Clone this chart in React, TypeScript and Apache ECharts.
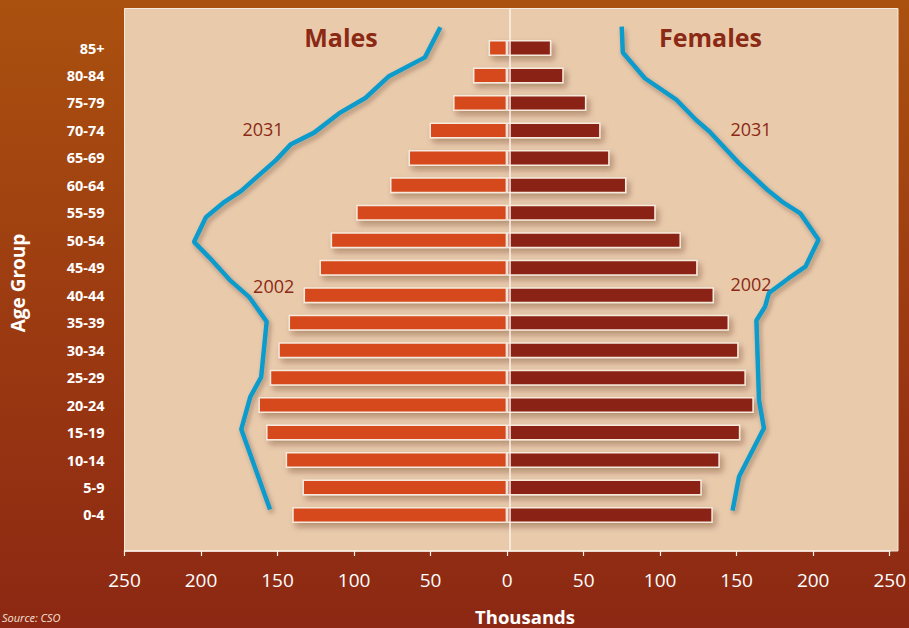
import React, { useEffect, useRef } from "react";
import * as echarts from "echarts";

const ageGroups = ["0-4", "5-9", "10-14", "15-19", "20-24", "25-29", "30-34", "35-39", "40-44", "45-49", "50-54", "55-59", "60-64", "65-69", "70-74", "75-79", "80-84", "85+"];
const males2002 = [140.4, 133.7, 144.7, 157.5, 162.5, 155.1, 149.5, 142.8, 133.0, 122.6, 115.3, 98.6, 76.5, 64.4, 50.7, 35.3, 22.3, 12.1];
const females2002 = [134.4, 127.2, 139.0, 152.4, 161.2, 156.0, 151.3, 145.0, 135.2, 124.5, 113.6, 97.1, 78.0, 67.0, 61.1, 51.8, 37.0, 28.9];

// 2031 projection outline: age (years) and population (thousands)
const male2031Ages = [3.5, 18.1, 24.0, 27.6, 37.7, 42.1, 45.3, 49.4, 52.2, 56.7, 59.3, 61.5, 67.1, 70.0, 72.1, 75.6, 78.4, 82.3, 85.8, 91.3];
const male2031Values = [154.9, 173.7, 167.8, 160.7, 157.1, 168.3, 181.3, 194.7, 204.6, 196.8, 185.6, 173.7, 151.0, 141.2, 126.1, 109.9, 92.6, 77.5, 53.7, 43.6];
const female2031Ages = [3.3, 9.5, 18.3, 23.4, 37.9, 40.4, 42.9, 45.6, 47.7, 52.6, 57.4, 59.5, 61.7, 66.5, 72.3, 74.4, 78.1, 82.0, 86.7, 91.4];
const female2031Values = [147.3, 151.6, 167.8, 164.6, 162.9, 168.5, 171.1, 184.0, 194.9, 203.5, 191.6, 179.8, 170.0, 151.6, 132.2, 123.5, 110.5, 90.0, 75.6, 74.9];

const xMin = -250;
const xMax = 250;
const xInterval = 50;

const FONT = "'Open Sans', 'Noto Sans', sans-serif";
const DARK = "#8B2914";

export default function App() {
  const ref = useRef<HTMLDivElement>(null);

  useEffect(() => {
    if (!ref.current) return;
    const chart = echarts.init(ref.current, undefined, { renderer: "svg" });

    const lineStyleCommon = {
      color: "#0B9BCC",
      width: 4.5,
      shadowColor: "rgba(60,30,10,0.35)",
      shadowBlur: 5,
      shadowOffsetX: 2,
      shadowOffsetY: 3,
    };

    const barShadow = {
      borderColor: "#F7E9DC",
      borderWidth: 1.5,
      shadowColor: "rgba(70,35,15,0.35)",
      shadowBlur: 6,
      shadowOffsetX: 3,
      shadowOffsetY: 4,
    };

    const option: any = {
      animation: false,
      backgroundColor: new echarts.graphic.LinearGradient(0, 0, 0, 1, [
        { offset: 0, color: "#AA510F" },
        { offset: 0.5, color: "#9C3B11" },
        { offset: 1, color: "#8C2813" },
      ]),
      textStyle: { fontFamily: FONT },
      grid: [
        {
          left: 124.5,
          top: 8.5,
          width: 773.5,
          height: 542.5,
          show: true,
          backgroundColor: "#E9CBAC",
          borderColor: "#F6E8DA",
          borderWidth: 1,
          containLabel: false,
        },
        {
          left: 124.5,
          top: 34.3,
          width: 771,
          height: 494.4,
          containLabel: false,
        },
      ],
      xAxis: [
        { gridIndex: 0, type: "value", min: xMin, max: 251.62, show: false },
        {
          gridIndex: 1,
          type: "value",
          min: xMin,
          max: xMax,
          interval: xInterval,
          offset: 22.3,
          axisLine: { show: true, onZero: false, lineStyle: { color: "#FBF1E8", width: 1.6 } },
          axisTick: { show: true, length: 5, lineStyle: { color: "#FBF1E8", width: 1.2 } },
          splitLine: { show: false },
          axisLabel: {
            color: "#FFFFFF",
            fontSize: 19,
            fontFamily: FONT,
            margin: 19,
            formatter: (v: number) => String(Math.abs(v)),
          },
        },
      ],
      yAxis: [
        { gridIndex: 0, type: "value", min: 0, max: 1, show: false },
        {
          gridIndex: 1,
          type: "category",
          data: ageGroups,
          axisLine: { show: false },
          axisTick: { show: false },
          splitLine: { show: false },
          axisLabel: {
            color: "#FFFFFF",
            fontSize: 14.5,
            fontWeight: "bold",
            fontFamily: FONT,
            margin: 20,
          },
        },
        { gridIndex: 1, type: "value", min: 0, max: 90, show: false },
      ],
      series: [
        {
          name: "zero",
          type: "line",
          xAxisIndex: 0,
          yAxisIndex: 0,
          data: [],
          silent: true,
          markLine: {
            silent: true,
            symbol: ["none", "none"],
            label: { show: false },
            lineStyle: { color: "#FBF2EA", width: 1.5, type: "solid" },
            data: [{ xAxis: 0 }],
          },
        },
        {
          name: "Males 2002",
          type: "bar",
          xAxisIndex: 1,
          yAxisIndex: 1,
          barGap: "-100%",
          barWidth: 16,
          data: males2002.map((v) => -v),
          itemStyle: { color: "#D5491B", ...barShadow },
        },
        {
          name: "Females 2002",
          type: "bar",
          xAxisIndex: 1,
          yAxisIndex: 1,
          barGap: "-100%",
          barWidth: 16,
          data: females2002,
          itemStyle: { color: "#8A2313", ...barShadow },
        },
        {
          name: "Males 2031",
          type: "line",
          xAxisIndex: 1,
          yAxisIndex: 2,
          clip: false,
          symbol: "none",
          showSymbol: false,
          data: male2031Ages.map((a, i) => [-male2031Values[i], a]),
          lineStyle: lineStyleCommon,
          z: 5,
        },
        {
          name: "Females 2031",
          type: "line",
          xAxisIndex: 1,
          yAxisIndex: 2,
          clip: false,
          symbol: "none",
          showSymbol: false,
          data: female2031Ages.map((a, i) => [female2031Values[i], a]),
          lineStyle: lineStyleCommon,
          z: 5,
        },
      ],
      graphic: [
        {
          type: "text",
          x: 341,
          y: 37,
          style: { text: "Males", fill: DARK, font: `bold 25px ${FONT}`, align: "center", verticalAlign: "middle" },
        },
        {
          type: "text",
          x: 710.5,
          y: 37,
          style: { text: "Females", fill: DARK, font: `bold 25px ${FONT}`, align: "center", verticalAlign: "middle" },
        },
        {
          type: "text",
          x: 263,
          y: 129,
          style: { text: "2031", fill: DARK, font: `18px ${FONT}`, align: "center", verticalAlign: "middle" },
        },
        {
          type: "text",
          x: 751,
          y: 129,
          style: { text: "2031", fill: DARK, font: `18px ${FONT}`, align: "center", verticalAlign: "middle" },
        },
        {
          type: "text",
          x: 273.7,
          y: 286,
          style: { text: "2002", fill: DARK, font: `18px ${FONT}`, align: "center", verticalAlign: "middle" },
        },
        {
          type: "text",
          x: 751,
          y: 284,
          style: { text: "2002", fill: DARK, font: `18px ${FONT}`, align: "center", verticalAlign: "middle" },
        },
        {
          type: "text",
          x: 18,
          y: 283,
          rotation: Math.PI / 2,
          style: { text: "Age Group", fill: "#FFFFFF", font: `bold 19px ${FONT}`, align: "center", verticalAlign: "middle" },
        },
        {
          type: "text",
          x: 525,
          y: 616,
          style: { text: "Thousands", fill: "#FFFFFF", font: `bold 18.5px ${FONT}`, align: "center", verticalAlign: "middle" },
        },
        {
          type: "text",
          x: 2,
          y: 612,
          style: { text: "Source: CSO", fill: "#F4E2D6", font: `italic 11px ${FONT}`, align: "left", verticalAlign: "top" },
        },
      ],
    };

    chart.setOption(option);
    return () => chart.dispose();
  }, []);

  return <div ref={ref} style={{ position: "fixed", left: 0, top: 0, width: 909, height: 628 }} />;
}
